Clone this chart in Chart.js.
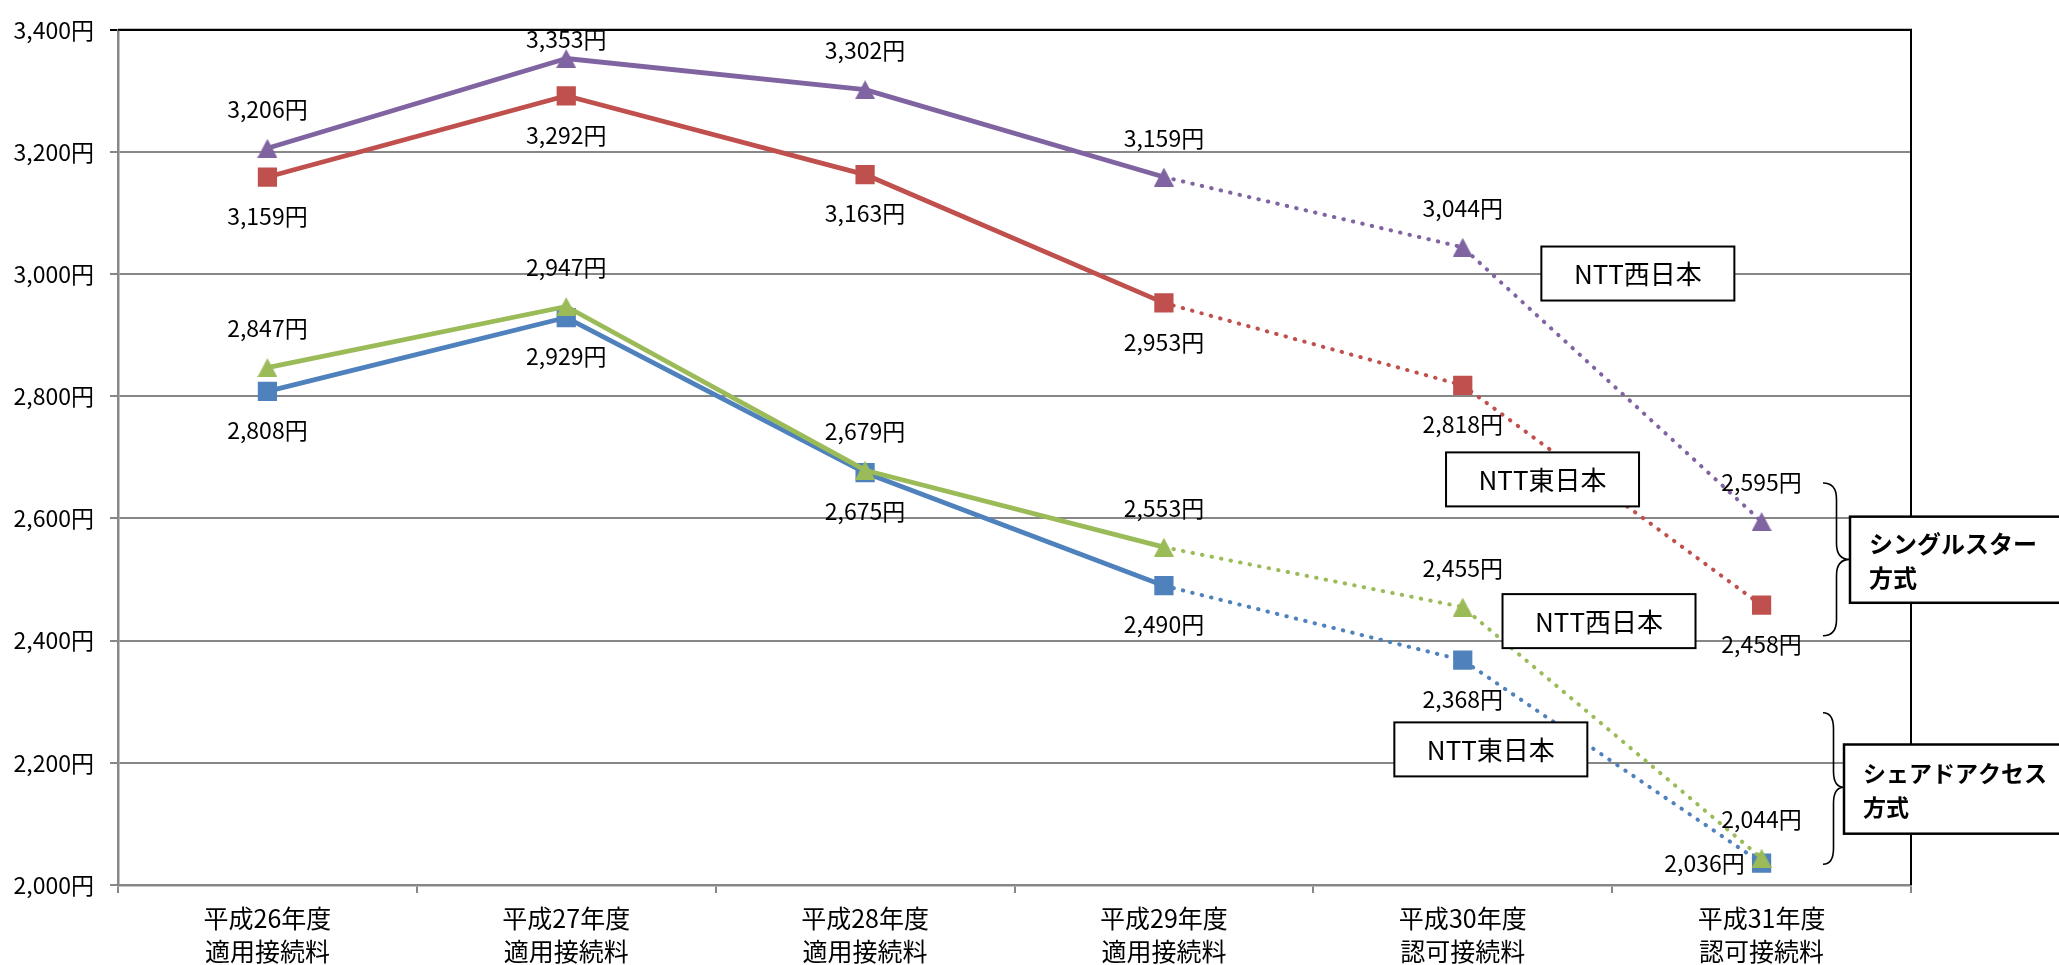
<!DOCTYPE html>
<html>
<head>
<meta charset="utf-8">
<script src="https://cdn.jsdelivr.net/npm/chart.js@4.4.1/dist/chart.umd.min.js"></script>
<style>
  html, body { margin: 0; padding: 0; background: #fff; }
  #wrap { width: 2059px; height: 965px; }
</style>
</head>
<body>
<div id="wrap"><canvas id="c" width="2059" height="965"></canvas></div>
<script>
// ---- Data ----
const categories = [
  ['平成26年度', '適用接続料'],
  ['平成27年度', '適用接続料'],
  ['平成28年度', '適用接続料'],
  ['平成29年度', '適用接続料'],
  ['平成30年度', '認可接続料'],
  ['平成31年度', '認可接続料']
];
const westSingle = [3206, 3353, 3302, 3159, 3044, 2595]; // シングルスター NTT西日本
const eastSingle = [3159, 3292, 3163, 2953, 2818, 2458]; // シングルスター NTT東日本
const westShared = [2847, 2947, 2679, 2553, 2455, 2044]; // シェアドアクセス NTT西日本
const eastShared = [2808, 2929, 2675, 2490, 2368, 2036]; // シェアドアクセス NTT東日本
const yMin = 2000, yMax = 3400, yStep = 200;
const dottedFrom = 3; // segments from this index on are approved (dotted)

// ---- Styling / annotation config ----
const FONT = "'Noto Sans CJK JP', 'Noto Sans', sans-serif";
const GRID = '#878787';

function triangleMarker(color) {
  const c = document.createElement('canvas');
  c.width = 20; c.height = 19;
  const g = c.getContext('2d');
  g.fillStyle = color;
  g.beginPath();
  g.moveTo(10, 0); g.lineTo(20, 19); g.lineTo(0, 19);
  g.closePath();
  g.fill();
  return c;
}

const seriesStyle = [
  { data: westSingle, color: '#8064A2', point: 'tri', radius: 11, label: 'above' },
  { data: westShared, color: '#9BBB59', point: 'tri', radius: 11, label: 'above' },
  { data: eastSingle, color: '#C0504D', point: 'rect', radius: 13.6, label: 'below' },
  { data: eastShared, color: '#4F81BD', point: 'rect', radius: 13.6, label: 'below' }
];
// per-label placement overrides: [seriesIndex, pointIndex, dx, dy]
const labelOverrides = [
  [0, 1, 0, -19],
  [3, 5, -57, 0]
];
const nttBoxes = [
  { text: 'NTT西日本', x: 4.586, y: 3001 },
  { text: 'NTT東日本', x: 4.267, y: 2664 },
  { text: 'NTT西日本', x: 4.456, y: 2432 },
  { text: 'NTT東日本', x: 4.094, y: 2222 }
];
const groupBoxes = [
  { lines: ['シングルスター', '方式'], dx: -61, top: 2603, bottom: 2462, size: 24 },
  { lines: ['シェアドアクセス', '方式'], dx: -67, top: 2230, bottom: 2084, size: 23 }
];
const braces = [
  { top: 2658, bottom: 2408, mid: 2533, dx0: -88, dx1: -61 },
  { top: 2282, bottom: 2034, mid: 2160, dx0: -88, dx1: -67 }
];

function yen(v) { return v.toLocaleString('en-US') + '円'; }

const decorPlugin = {
  id: 'decor',
  afterDatasetsDraw(chart) {
    const ctx = chart.ctx;
    const ca = chart.chartArea;
    const xs = chart.scales.x, ys = chart.scales.y;
    ctx.save();
    // top & right border
    ctx.strokeStyle = '#000';
    ctx.lineWidth = 2;
    ctx.beginPath();
    ctx.moveTo(ca.left, ca.top);
    ctx.lineTo(ca.right, ca.top);
    ctx.lineTo(ca.right, ca.bottom);
    ctx.stroke();

    // data labels
    ctx.fillStyle = '#000';
    ctx.font = '23px ' + FONT;
    ctx.textAlign = 'center';
    ctx.textBaseline = 'middle';
    chart.data.datasets.forEach((ds, si) => {
      const meta = chart.getDatasetMeta(si);
      const st = seriesStyle[si];
      meta.data.forEach((pt, i) => {
        let dx = 0, dy = st.label === 'above' ? -39 : 39;
        labelOverrides.forEach(o => { if (o[0] === si && o[1] === i) { dx = o[2]; dy = o[3]; } });
        ctx.fillText(yen(ds.data[i]), pt.x + dx, pt.y + dy);
      });
    });

    // NTT boxes
    ctx.font = '26px ' + FONT;
    nttBoxes.forEach(b => {
      const cx = xs.getPixelForValue(b.x), cy = ys.getPixelForValue(b.y);
      const w = 193, h = 54;
      ctx.fillStyle = '#fff';
      ctx.fillRect(cx - w / 2, cy - h / 2, w, h);
      ctx.strokeStyle = '#000';
      ctx.lineWidth = 2;
      ctx.strokeRect(cx - w / 2, cy - h / 2, w, h);
      ctx.fillStyle = '#000';
      ctx.fillText(b.text, cx, cy + 1);
    });

    // braces
    ctx.strokeStyle = '#000';
    ctx.lineWidth = 1.6;
    braces.forEach(b => {
      const x0 = ca.right + b.dx0, x1 = ca.right + b.dx1;
      const xm = (x0 + x1) / 2;
      const t = ys.getPixelForValue(b.top), bt = ys.getPixelForValue(b.bottom), m = ys.getPixelForValue(b.mid);
      const r = 16;
      ctx.beginPath();
      ctx.moveTo(x0, t);
      ctx.quadraticCurveTo(xm, t, xm, t + r);
      ctx.lineTo(xm, m - r);
      ctx.quadraticCurveTo(xm, m, x1, m);
      ctx.quadraticCurveTo(xm, m, xm, m + r);
      ctx.lineTo(xm, bt - r);
      ctx.quadraticCurveTo(xm, bt, x0, bt);
      ctx.stroke();
    });

    // group boxes
    groupBoxes.forEach(g => {
      const l = ca.right + g.dx;
      const t = ys.getPixelForValue(g.top), bt = ys.getPixelForValue(g.bottom);
      const r = chart.width + 4;
      ctx.fillStyle = '#fff';
      ctx.fillRect(l, t, r - l, bt - t);
      ctx.strokeStyle = '#000';
      ctx.lineWidth = 2.5;
      ctx.strokeRect(l, t, r - l, bt - t);
      ctx.fillStyle = '#000';
      ctx.font = 'bold ' + g.size + 'px ' + FONT;
      ctx.textAlign = 'left';
      const mid = (t + bt) / 2;
      ctx.fillText(g.lines[0], l + 19, mid - 16);
      ctx.fillText(g.lines[1], l + 19, mid + 18);
      ctx.textAlign = 'center';
    });
    ctx.restore();
  }
};

Chart.defaults.font.family = FONT;
Chart.defaults.color = '#000';

new Chart(document.getElementById('c'), {
  type: 'line',
  data: {
    labels: categories,
    datasets: seriesStyle.map(s => ({
      data: s.data,
      borderColor: s.color,
      backgroundColor: s.color,
      pointBackgroundColor: s.color,
      pointBorderColor: s.color,
      pointBorderWidth: 0,
      pointStyle: s.point === 'tri' ? triangleMarker(s.color) : 'rect',
      pointRadius: s.radius,
      pointHoverRadius: s.radius,
      borderWidth: 4.8,
      borderJoinStyle: 'round',
      fill: false,
      tension: 0,
      segment: {
        borderDash: c => c.p0DataIndex >= dottedFrom ? [0.5, 9.2] : undefined,
        borderWidth: c => c.p0DataIndex >= dottedFrom ? 4 : 4.8,
        borderCapStyle: c => c.p0DataIndex >= dottedFrom ? 'round' : 'butt'
      }
    }))
  },
  options: {
    responsive: false,
    animation: false,
    events: [],
    layout: { padding: { top: 21, right: 148, left: 0, bottom: 0 } },
    plugins: { legend: { display: false }, tooltip: { enabled: false } },
    scales: {
      x: {
        offset: true,
        grid: { offset: true, drawOnChartArea: false, color: GRID, lineWidth: 2, tickLength: 8 },
        border: { color: GRID, width: 2.5 },
        ticks: { font: { size: 25, lineHeight: 1.32 }, padding: 9, maxRotation: 0, autoSkip: false },
        afterFit: s => { s.height = 80; }
      },
      y: {
        min: yMin, max: yMax,
        grid: {
          color: c => (c.tick && c.tick.value === yMax) ? '#000' : GRID,
          lineWidth: 2, tickLength: 8
        },
        border: { color: GRID, width: 2.5 },
        ticks: { stepSize: yStep, font: { size: 23 }, padding: 16, callback: v => yen(v) },
        afterFit: s => { s.width = 118; }
      }
    }
  },
  plugins: [decorPlugin]
});
</script>
</body>
</html>
